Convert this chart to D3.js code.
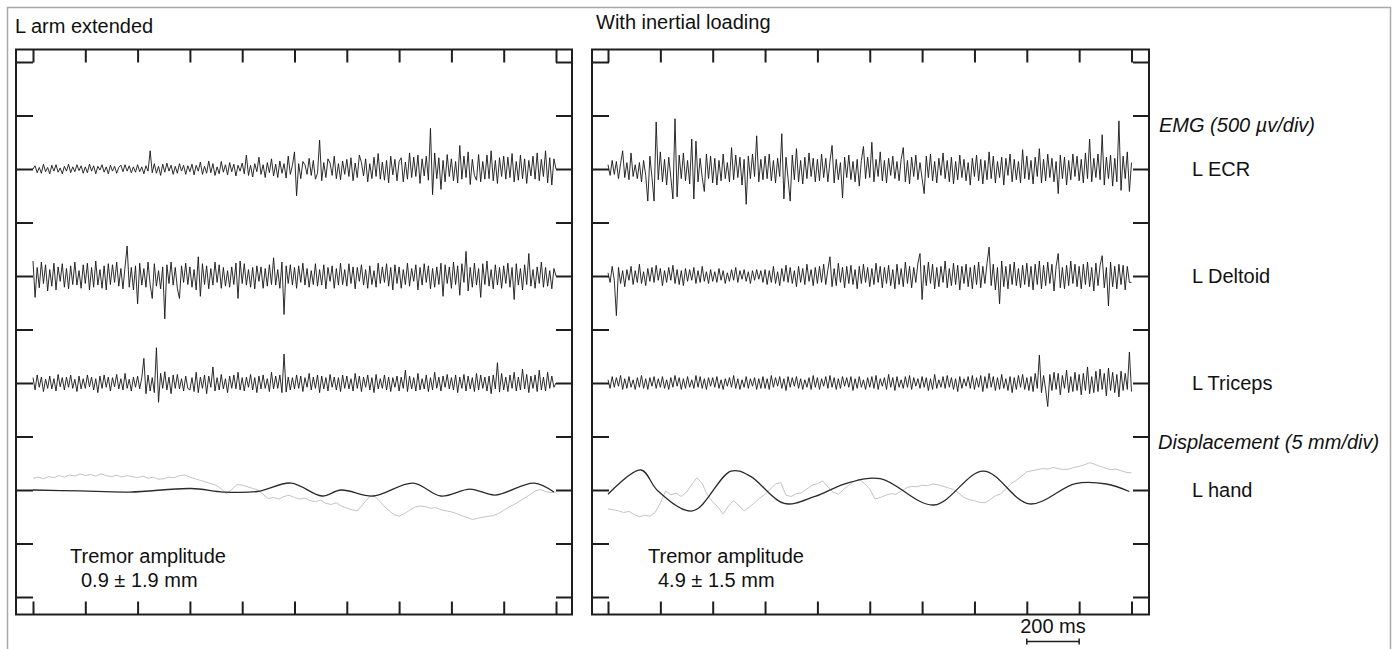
<!DOCTYPE html>
<html><head><meta charset="utf-8">
<script src="https://cdn.jsdelivr.net/npm/d3@7"></script>
<style>
html,body{margin:0;padding:0;background:#fff;}
svg text{font-family:"Liberation Sans",Arial,Helvetica,sans-serif;fill:#111;}
</style></head>
<body><svg id="c" width="1398" height="649"></svg>
<script>
// ---------- DATA ----------
const panelTitles = ["L arm extended", "With inertial loading"];
const channelLabels = ["L ECR", "L Deltoid", "L Triceps", "L hand"];
const groupLabels = ["EMG (500 \u00b5v/div)", "Displacement (5 mm/div)"];
const tremorTitle = "Tremor amplitude";
const tremorValues = ["0.9 \u00b1 1.9 mm", "4.9 \u00b1 1.5 mm"];
const scaleBarLabel = "200 ms";
const timeTicks = [0,200,400,600,800,1000,1200,1400,1600,1800,2000]; // ms
const divTicks = [0,1,2,3,4,5,6,7,8,9,10];
const emgPerDiv = 500;   // µV per division
const mmPerDiv = 5;      // mm per division

// EMG traces in µV, sampled every 8 ms over 2000 ms
const ecrLeft = [
0,30,-35,15,-40,45,-25,15,-45,35,-20,40,-30,10,-45,25,-20,45,-35,20,-25,40,-15,30,-40,
20,-35,45,-20,30,-45,25,-10,40,-30,20,-45,35,-20,25,-40,15,35,-25,40,-20,30,-35,20,-30,
40,-25,20,-45,30,-20,170,-35,50,-40,25,-60,45,-30,55,-20,35,-50,25,-40,50,-20,35,-50,30,
-25,45,-55,35,-20,65,-50,25,-40,75,-35,50,-60,20,-45,70,-30,40,-55,60,-25,45,-65,35,-20,
55,-45,130,-60,35,-75,50,-25,110,-50,40,-80,60,-35,95,-65,45,-80,75,-40,50,-85,120,-50,35,
160,-250,50,-90,70,40,-50,100,-60,80,-95,-40,270,-110,60,-80,95,55,-60,120,-90,50,-100,75,-50,
90,-70,105,-110,55,-80,130,60,-65,95,-120,50,-90,110,-70,145,-95,65,-105,80,-130,120,-55,90,-110,
70,105,-120,65,-95,150,-80,110,-70,130,-135,95,-65,120,-105,380,-240,150,-90,105,-190,80,-120,135,-70,
95,-110,70,-130,220,-95,120,-80,160,-145,90,-60,-105,135,-120,70,-95,130,-90,170,-110,80,-135,105,-70,
120,-95,110,-80,145,-120,70,-105,130,-90,95,-135,80,-65,120,-95,150,-110,90,-70,170,-130,105,-150,95,
0];
const deltoidLeft = [
140,-200,80,-110,130,-70,105,-140,60,-95,120,-130,85,-50,115,-105,70,-120,95,-80,130,-85,50,-115,105,
-70,120,-130,80,-105,140,-85,60,-115,95,-130,115,-80,105,-60,130,-95,70,-120,85,280,-105,80,-130,95,
-260,120,-85,70,-105,130,-80,-210,115,-95,50,-120,85,-400,105,-70,130,-85,80,-115,-210,95,-60,120,-80,
85,-105,60,-130,180,-190,115,-80,95,-120,70,-85,130,-60,105,-115,80,-95,50,-105,85,-80,120,-210,140,
-70,115,-85,60,-105,80,-120,95,-50,85,-115,70,-95,105,-80,170,-85,60,-115,130,-360,95,-70,105,-85,
80,-115,95,-60,120,-85,70,-105,50,-80,115,-95,60,-85,105,-120,80,-50,95,-115,70,-85,120,-80,60,
-95,115,-70,85,-120,80,-50,105,-85,60,-115,95,-80,50,-105,120,-70,85,-60,115,-95,80,-130,105,-70,
85,-115,60,-80,120,-95,70,-50,105,-130,80,-85,115,-60,95,-120,70,-105,85,-80,120,-190,105,-70,85,
-115,130,-80,95,-180,115,-60,230,-140,80,-105,120,-85,70,-200,115,-80,140,-95,60,-120,105,-85,80,-115,
95,-70,120,-105,80,-220,115,-85,70,-130,105,-80,210,-95,60,-115,85,-70,130,-105,80,-95,50,-120,70,
0];
const tricepsLeft = [
50,-65,75,-40,55,-80,35,-50,65,-55,40,-75,80,-35,50,-65,55,-40,75,-50,35,-80,65,-55,40,
-50,75,-35,55,-65,40,-90,65,-50,75,-40,55,-75,50,-35,80,-55,40,-65,90,-50,35,-75,55,-40,
65,-55,50,230,-100,75,-75,50,-90,330,-180,90,-50,105,-65,55,-100,75,-50,80,-55,40,-75,65,-50,
-65,50,-80,100,-90,55,-50,75,-100,65,-40,150,-75,50,-65,80,-55,40,-90,65,-50,75,-55,100,-65,
50,-75,55,-40,80,-65,50,-90,65,-55,75,-50,40,-80,100,-55,65,-50,75,-90,270,-85,55,-65,50,
-55,75,-50,65,-80,50,-40,90,-65,55,-50,75,-90,65,-55,50,-75,80,-40,55,-65,50,-80,75,-50,
65,-55,40,-75,90,-50,65,-80,55,-40,75,-65,50,-90,80,-55,40,-50,75,-65,55,-80,50,-40,65,
-75,55,-50,120,-80,65,-55,50,-75,90,-65,40,-55,75,-80,50,-65,100,-50,55,-75,65,-40,80,-55,
50,-65,75,-90,55,-50,80,-75,65,-55,50,-80,90,-65,75,-50,55,-75,65,-100,75,-55,190,-85,90,
-65,55,-80,75,-50,100,-75,55,-65,130,-55,80,-90,65,-50,75,-80,120,-65,55,-75,100,-50,65,-40,
0];
const ecrRight = [
40,-60,80,-50,70,-90,50,170,-80,60,-100,150,-70,40,-90,60,-120,80,-60,-300,120,-80,-300,440,-100,
160,-120,90,-150,110,-80,-280,470,-260,130,-90,150,-110,80,-140,280,-280,260,-120,100,-80,-210,140,-90,120,
-130,100,-150,80,-110,140,-90,60,-120,200,-100,130,-80,110,-150,90,-330,120,-90,140,-70,310,-120,90,-100,
120,-90,140,-110,80,-130,100,-70,330,-280,110,-90,-300,130,-100,190,-120,80,-140,110,-90,150,-70,100,-120,
90,-110,140,-80,100,-120,70,220,-130,90,-100,60,-270,110,-80,130,-100,70,-120,90,-160,80,210,-90,110,
-80,250,-120,90,-70,160,-110,80,-130,100,-60,120,-90,70,-110,90,200,-120,80,-140,110,-70,130,-100,60,
-90,-230,120,-80,140,-110,70,-130,100,-60,150,-90,80,-120,110,-140,70,-100,130,-80,90,-110,60,-150,100,
-70,130,-110,90,-140,80,-100,160,-90,120,-130,70,-80,110,-150,100,-60,140,-120,90,-100,70,-130,180,-90,
120,-100,80,-140,110,-70,190,-130,90,-110,140,-80,100,-120,70,-230,130,-90,110,-150,80,-100,140,-70,120,
-110,90,-130,150,-90,280,-120,100,-80,140,-100,320,-150,110,-90,130,-160,100,-120,450,-200,120,-90,160,-210,
60];
const deltoidRight = [
30,-60,90,-40,-370,80,-70,50,-100,60,-40,90,-80,50,-60,110,-70,40,-90,70,-50,80,-60,100,-40,
70,-90,50,-60,80,-40,100,-70,60,-80,50,-90,70,-50,60,-40,80,-70,50,-60,90,-50,40,-70,60,
-50,40,-60,70,-40,50,-70,30,-50,60,-40,80,-60,50,-30,60,-50,40,-70,50,-40,60,-30,50,-60,
60,-80,50,-60,90,-70,40,-90,70,-50,100,-60,80,-70,50,-100,90,-60,70,-80,110,-50,60,-90,80,
-70,90,-60,110,-80,60,180,-100,70,-90,120,-60,80,-110,90,-70,100,-80,60,-120,90,-70,110,-60,80,
-100,70,-80,120,-60,90,-110,80,-70,100,-90,60,-120,110,-80,70,-100,130,-70,90,-110,80,-60,120,210,
-220,100,-90,130,-70,110,-120,80,-100,90,-60,140,-110,70,-90,120,-80,100,-130,90,-70,110,-100,80,-120,
100,-80,130,-110,90,-70,120,270,-90,110,-130,80,-260,140,-100,90,-120,110,-80,130,-90,70,-110,100,-80,
120,-100,90,-130,110,-80,140,-120,100,-90,130,-70,110,-140,90,210,-110,80,-120,100,-90,140,-70,110,-100,
90,-120,110,-80,130,-100,80,-140,120,-90,100,190,-110,80,-280,130,-100,90,-120,110,-80,100,-130,90,-60,
-60];
const tricepsRight = [
30,-50,60,-40,50,-30,70,-60,40,-50,60,-40,30,-60,50,-40,70,-50,40,-60,50,-30,60,-50,40,
-40,60,-50,30,-60,50,-40,70,-30,50,-60,40,-50,60,-40,30,-50,70,-40,60,-50,40,-60,50,-30,
50,-40,60,-50,30,-60,40,-30,50,-40,70,-50,40,-60,30,-40,60,-50,40,-30,50,-60,40,-50,60,
-50,40,-60,70,-40,50,-30,60,-50,40,-70,60,-40,50,-30,60,-50,40,-60,30,-40,50,-60,70,-40,
50,-60,40,-30,60,-50,70,-40,50,-60,40,-50,60,-30,50,-40,60,-70,40,-50,60,-40,30,-60,50,
-40,60,-50,70,-60,40,-30,50,-60,80,-40,50,-70,60,-40,30,-50,60,-40,70,-60,50,-30,40,-50,
60,-40,50,-70,40,-60,80,-50,30,-40,60,-50,70,-40,50,-60,40,-80,60,-50,40,-30,60,-50,70,
-60,50,-40,70,-80,60,-50,90,-40,60,-70,50,-60,80,-50,40,-70,60,-90,50,-60,70,-40,80,-60,
50,-70,60,-80,90,-50,260,-90,70,-60,-220,80,-70,100,-60,90,-110,70,-50,120,-90,60,-80,100,-70,
80,-110,90,-70,150,-100,60,-90,110,-80,130,-60,90,-120,140,-70,100,-90,80,-130,110,-70,90,-60,290,
-80];

// Hand displacement (mm). Black: smooth trace (time ms / value); grey: noisy trace every 20 ms
const handBlackLeftT = [0,180,371,604,729,858,987,1105,1178,1302,1453,1560,1671,1767,1916,1992];
const handBlackLeftV = [0,-0.09,-0.19,0.14,-0.19,-0.14,0.65,-0.56,0.0,-0.56,0.65,-0.56,0.09,-0.47,0.65,-0.19];
const handBlackRightT = [0,126,191,323,470,543,673,791,908,1040,1245,1434,1610,1786,1904,1992];
const handBlackRightV = [-0.4,1.87,-0.09,-1.96,1.77,1.3,-1.26,-0.6,0.6,1.07,-1.4,1.77,-1.3,0.6,0.56,-0.14];
const handGreyLeft = [
1.1,1.2,1.05,1.25,1.15,1.35,1.2,1.4,1.3,1.5,1.35,1.45,1.3,1.5,1.35,1.25,1.4,1.2,1.35,1.25,
1.15,1.3,1.1,1.2,1.0,1.05,1.2,1.15,1.35,1.4,1.2,1.05,0.9,0.75,0.6,0.45,0.1,-0.35,0.05,0.5,
0.45,0.3,0.15,0.0,-0.4,-0.8,-0.7,-0.85,-0.6,-0.5,-0.7,-0.85,-0.75,-1.0,-1.1,-0.95,-1.25,-1.35,-1.2,-1.5,
-1.7,-1.85,-1.95,-1.4,-0.8,-0.45,-0.9,-1.45,-1.9,-2.3,-2.45,-2.2,-1.9,-1.6,-1.5,-1.55,-1.7,-1.65,-1.85,-1.95,
-2.05,-2.2,-2.4,-2.55,-2.75,-2.65,-2.55,-2.45,-2.4,-2.2,-1.9,-1.6,-1.35,-1.05,-0.75,-0.45,-0.1,0.05,-0.15,-0.25,
-0.2];
const handGreyRight = [
-1.75,-1.85,-1.95,-2.1,-2.0,-2.3,-2.5,-2.35,-2.45,-2.1,-1.2,-0.1,-0.45,-0.3,-0.6,-0.2,0.5,1.15,0.6,-0.5,
-1.1,-1.6,-2.25,-1.5,-1.0,-1.45,-1.95,-1.6,-1.2,-0.75,-0.4,0.1,0.55,0.7,-0.5,-0.6,-0.35,-0.25,0.1,0.45,
0.6,0.85,0.3,-0.2,-0.4,0.05,0.45,0.8,1.0,0.6,0.1,-0.85,-0.7,-0.5,-0.35,-0.4,-0.1,0.2,0.35,0.3,
0.45,0.4,0.55,0.5,0.35,0.2,0.05,-0.3,-0.7,-0.9,-1.0,-1.15,-1.2,-0.9,-0.55,-0.35,0.1,0.6,0.9,1.3,
1.7,1.8,1.9,2.0,1.95,2.1,2.0,1.9,1.95,2.1,2.2,2.35,2.55,2.4,2.2,2.05,1.9,1.95,1.8,1.65,
1.6];
const scaleBarT = [1600, 1800];

// ---------- DRAW ----------
const svg = d3.select("#c");
const ink = "#1e1e1e";
const fs = 20;

svg.append("rect").attr("x",7.5).attr("y",7.5).attr("width",1383).attr("height",700)
  .attr("fill","none").attr("stroke","#a8a8a8").attr("stroke-width",1.5);

const frameTop = 49.5, frameBottom = 614.5;
const y = d3.scaleLinear().domain([0,10]).range([597,62]);

const panels = [
  {fx0:16, fx1:572, r:[33,556], titleX:15, titleY:33, tremX:70, tremVX:81,
   emg:[ecrLeft, deltoidLeft, tricepsLeft],
   black:{t:handBlackLeftT, v:handBlackLeftV}, grey:handGreyLeft, tremor:tremorValues[0]},
  {fx0:592, fx1:1149, r:[608,1131.5], titleX:596, titleY:29, tremX:648, tremVX:658,
   emg:[ecrRight, deltoidRight, tricepsRight],
   black:{t:handBlackRightT, v:handBlackRightV}, grey:handGreyRight, tremor:tremorValues[1]}
];
const baseDivs = [8, 6, 4, 2];

panels.forEach((p, pi) => {
  const x = d3.scaleLinear().domain([0,2000]).range(p.r);
  const g = svg.append("g");

  g.append("text").attr("x",p.titleX).attr("y",p.titleY).attr("font-size",fs).text(panelTitles[pi]);

  g.append("rect").attr("x",p.fx0).attr("y",frameTop).attr("width",p.fx1-p.fx0)
    .attr("height",frameBottom-frameTop).attr("fill","none").attr("stroke",ink).attr("stroke-width",2);

  const axes = [
    g.append("g").attr("transform",`translate(0,${frameTop})`).call(d3.axisTop(x).tickValues(timeTicks).tickSize(-13)),
    g.append("g").attr("transform",`translate(0,${frameBottom})`).call(d3.axisBottom(x).tickValues(timeTicks).tickSize(-13)),
    g.append("g").attr("transform",`translate(${p.fx0},0)`).call(d3.axisLeft(y).tickValues(divTicks).tickSize(-17)),
    g.append("g").attr("transform",`translate(${p.fx1},0)`).call(d3.axisRight(y).tickValues(divTicks).tickSize(-16))
  ];
  axes.forEach(a => {
    a.select(".domain").remove();
    a.selectAll("text").remove();
    a.attr("color", ink).selectAll("line").attr("stroke-width",2);
  });

  // EMG traces
  p.emg.forEach((arr, k) => {
    const n = arr.length - 1;
    const line = d3.line().x((d,i)=>x(i*2000/n)).y(d=>y(baseDivs[k] + d/emgPerDiv));
    g.append("path").attr("d", line(arr)).attr("fill","none")
      .attr("stroke","#151515").attr("stroke-width",0.9).attr("stroke-linejoin","round");
  });

  // grey displacement
  const ng = p.grey.length - 1;
  const greyLine = d3.line().x((d,i)=>x(i*2000/ng)).y(d=>y(baseDivs[3] + d/mmPerDiv));
  g.append("path").attr("d", greyLine(p.grey)).attr("fill","none")
    .attr("stroke","#c4c4c4").attr("stroke-width",1);

  // black displacement
  const pts = p.black.t.map((t,i)=>[t, p.black.v[i]]);
  const blackLine = d3.line().x(d=>x(d[0])).y(d=>y(baseDivs[3] + d[1]/mmPerDiv)).curve(d3.curveCatmullRom.alpha(0.5));
  g.append("path").attr("d", blackLine(pts)).attr("fill","none")
    .attr("stroke","#2a2a2a").attr("stroke-width",1.3);

  g.append("text").attr("x",p.tremX).attr("y",563).attr("font-size",fs).text(tremorTitle);
  g.append("text").attr("x",p.tremVX).attr("y",587).attr("font-size",fs).text(p.tremor);

  if (pi === 1) {
    const bx0 = x(scaleBarT[0]), bx1 = x(scaleBarT[1]);
    g.append("text").attr("x",(bx0+bx1)/2).attr("y",633).attr("text-anchor","middle")
      .attr("font-size",fs).text(scaleBarLabel);
    g.append("line").attr("x1",bx0).attr("x2",bx1).attr("y1",641.5).attr("y2",641.5)
      .attr("stroke",ink).attr("stroke-width",1.5);
    [bx0,bx1].forEach(bx => g.append("line").attr("x1",bx).attr("x2",bx).attr("y1",638.5).attr("y2",644.5)
      .attr("stroke",ink).attr("stroke-width",1.5));
  }
});

const labX = 1192;
svg.append("text").attr("x",1159).attr("y",132).attr("font-size",fs).attr("font-style","italic").text(groupLabels[0]);
svg.append("text").attr("x",1158).attr("y",449).attr("font-size",fs).attr("font-style","italic").text(groupLabels[1]);
channelLabels.forEach((lab,k) => {
  svg.append("text").attr("x",labX).attr("y",y(baseDivs[k])).attr("dy","0.36em")
    .attr("font-size",fs).text(lab);
});
</script>
</body></html>
